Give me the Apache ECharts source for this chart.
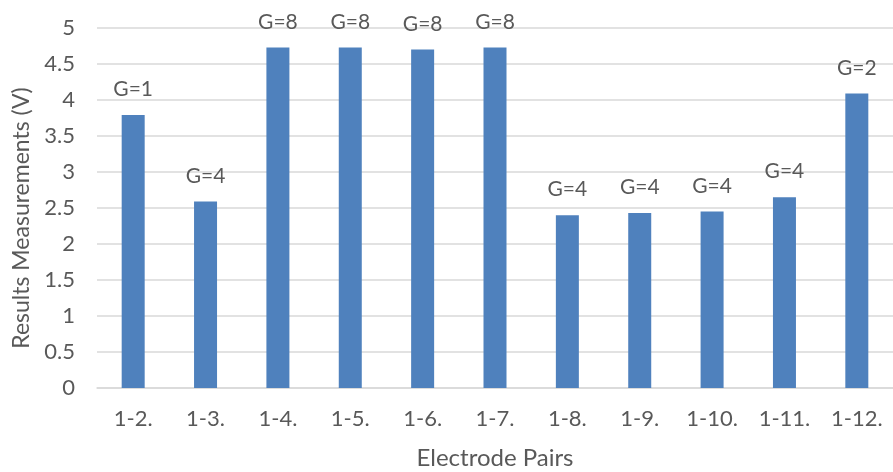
<!DOCTYPE html>
<html>
<head>
<meta charset="utf-8">
<script src="https://cdn.jsdelivr.net/npm/echarts@6/dist/echarts.min.js"></script>
<style>
  html, body { margin: 0; padding: 0; background: #ffffff; }
  #chart { width: 893px; height: 472px; }
</style>
</head>
<body>
<div id="chart"></div>
<script>
// Electrode pair measurements with the gain used for each pair
const pairs = ['1-2.', '1-3.', '1-4.', '1-5.', '1-6.', '1-7.', '1-8.', '1-9.', '1-10.', '1-11.', '1-12.'];
const voltages = [3.79, 2.59, 4.73, 4.73, 4.70, 4.73, 2.40, 2.43, 2.45, 2.65, 4.09];
const gains = [1, 4, 8, 8, 8, 8, 4, 4, 4, 4, 2];
const yTicks = [0, 0.5, 1, 1.5, 2, 2.5, 3, 3.5, 4, 4.5, 5];

const textColor = '#595959';
const fontFamily = 'Lato, "Open Sans", sans-serif';

const chart = echarts.init(document.getElementById('chart'), null, { renderer: 'canvas' });

chart.setOption({
  animation: false,
  backgroundColor: '#ffffff',
  grid: {
    left: 97, right: 0, top: 28, bottom: 84,
    containLabel: false,
    outerBoundsMode: 'none'
  },
  xAxis: {
    type: 'category',
    data: pairs,
    name: 'Electrode Pairs',
    nameLocation: 'middle',
    nameGap: 58,
    nameTextStyle: { color: textColor, fontSize: 24, fontFamily: fontFamily },
    axisLine: { show: true, lineStyle: { color: '#d9d9d9', width: 1.5 } },
    axisTick: { show: false },
    axisLabel: { color: textColor, fontSize: 22, fontFamily: fontFamily, margin: 20 }
  },
  yAxis: {
    type: 'value',
    min: yTicks[0],
    max: yTicks[yTicks.length - 1],
    interval: 0.5,
    name: 'Results Measurements (V)',
    nameLocation: 'middle',
    nameGap: 64,
    nameTextStyle: { color: textColor, fontSize: 23, fontFamily: fontFamily, padding: [0, 20, 0, 0] },
    axisLine: { show: false },
    axisTick: { show: false },
    splitLine: { show: true, lineStyle: { color: '#d9d9d9', width: 1.5 } },
    axisLabel: { color: textColor, fontSize: 22, fontFamily: fontFamily, margin: 22 }
  },
  series: [{
    type: 'bar',
    data: voltages,
    barWidth: 23,
    itemStyle: { color: '#4f81bd' },
    label: {
      show: true,
      position: 'top',
      distance: 15,
      color: textColor,
      fontSize: 21,
      fontFamily: fontFamily,
      formatter: function (p) { return 'G=' + gains[p.dataIndex]; }
    }
  }]
});
</script>
</body>
</html>
